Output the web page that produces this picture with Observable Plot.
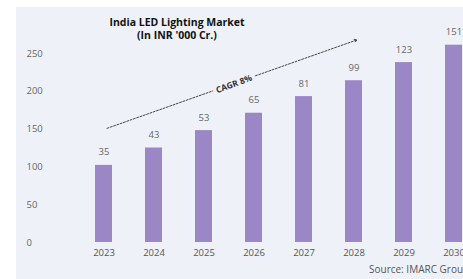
<!DOCTYPE html>
<html>
<head>
<meta charset="utf-8">
<script src="https://cdn.jsdelivr.net/npm/d3@7"></script>
<script src="https://cdn.jsdelivr.net/npm/@observablehq/plot@0.6"></script>
<style>
  html, body { margin: 0; padding: 0; background: #ffffff; overflow: hidden; width: 463px; height: 279px; }
  #wrap { position: relative; width: 463px; height: 279px; overflow: hidden; font-family: "Open Sans", sans-serif; }
  #panel { position: absolute; left: 16px; top: 7px; right: 0; bottom: 0; background: #eef2f8; }
  #chart { position: absolute; left: 0; top: 0; width: 478px; }
  #chart svg { max-width: none !important; }
  #title { position: absolute; left: 97px; width: 160px; top: 16px; text-align: center; font-weight: 700; font-size: 10.5px; line-height: 13px; color: #111; }
  #source { position: absolute; left: 369px; top: 262px; font-size: 10px; color: #555; white-space: nowrap; }
</style>
</head>
<body>
<div id="wrap">
  <div id="panel"></div>
  <div id="chart"></div>
  <div id="title">India LED Lighting Market<br>(In INR '000 Cr.)</div>
  <div id="source">Source: IMARC Group</div>
</div>
<script>
// Data
const years = ["2023", "2024", "2025", "2026", "2027", "2028", "2029", "2030"];
// bar heights as drawn against the 0–250 axis
const barHeights = [102, 125, 148, 171, 193, 214, 238, 261];
// value labels printed above bars (INR '000 Cr.)
const valueLabels = [35, 43, 53, 65, 81, 99, 123, 151];
const yTicks = [0, 50, 100, 150, 200, 250];
// CAGR annotation arrow (data space)
const cagrFrom = ["2023", 151];
const cagrTo = ["2028", 268];
const cagrLabel = "CAGR 8%";

const data = years.map((y, i) => ({year: y, h: barHeights[i], label: String(valueLabels[i])}));
const arrow = [{x1: cagrFrom[0], y1: cagrFrom[1], x2: cagrTo[0], y2: cagrTo[1]}];
const midY = (cagrFrom[1] + cagrTo[1]) / 2;

const marginLeft = 78;
const chart = Plot.plot({
  width: 478,
  height: 279,
  marginLeft,
  marginRight: 0,
  marginTop: 53,
  marginBottom: 37,
  style: {background: "transparent", fontFamily: "'Open Sans', sans-serif", fontSize: "9.5px", color: "#666", maxWidth: "none"},
  x: {domain: years, paddingInner: 0.66, paddingOuter: 0.33, label: null},
  y: {domain: [0, 250], label: null},
  marks: [
    Plot.axisY(yTicks, {tickSize: 0, tickPadding: 0, textAnchor: "start", dx: 26 - marginLeft, label: null, fill: "#666"}),
    Plot.axisX({tickSize: 0, tickPadding: 7, label: null, fill: "#555"}),
    Plot.barY(data, {x: "year", y: "h", fill: "#9b87c6"}),
    Plot.text(data, {x: "year", y: "h", text: "label", dy: -13, fill: "#666", fontSize: 9.5}),
    Plot.arrow(arrow, {x1: "x1", y1: "y1", x2: "x2", y2: "y2", stroke: "#333", strokeWidth: 0.9, strokeDasharray: "2,1.5", headLength: 5, dx: 3}),
    Plot.text([cagrLabel], {x: () => "2025", y: () => midY, text: d => d, dx: 30, dy: 0, rotate: -20, fill: "#333", fontSize: 8.5, fontWeight: 700, stroke: "#eef2f8", strokeWidth: 7})
  ]
});
document.getElementById("chart").appendChild(chart);
</script>
</body>
</html>
